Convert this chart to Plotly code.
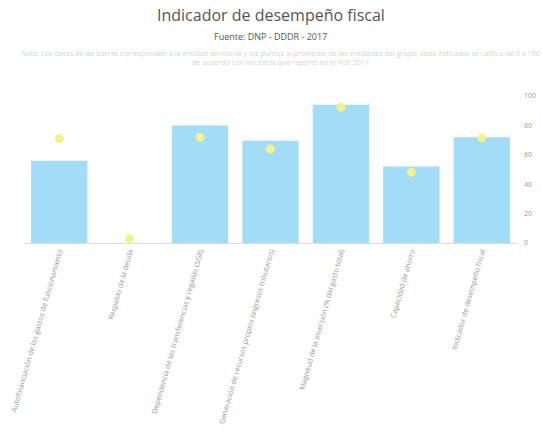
import plotly.graph_objects as go

categories = [
    "Autofinanciación de los gastos de funcionamiento",
    "Respaldo de la deuda",
    "Dependencia de las transferencias y regalías (SGR)",
    "Generación de recursos propios (ingresos tributarios)",
    "Magnitud de la inversión (% del gasto total)",
    "Capacidad de ahorro",
    "Indicador de desempeño fiscal",
]
municipio = [56, 0, 80, 69.5, 94, 52, 72]
referencia = [71, 3, 72, 64, 92.5, 48, 71.5]
y_ticks = [0, 20, 40, 60, 80, 100]

title = "Indicador de desempeño fiscal"
subtitle = "Fuente: DNP - DDDR - 2017"
note = ("Nota: Los datos de las barras corresponden a la entidad territorial y los puntos al promedio de las entidades del grupo; cada indicador se califica de 0 a 100<br>"
        "de acuerdo con los datos que reportó en el FUT 2017")

fig = go.Figure()
fig.add_trace(go.Bar(
    x=categories, y=municipio, name="Municipio",
    marker=dict(color="#a3dcf6", line=dict(width=0)),
))
fig.add_trace(go.Scatter(
    x=categories, y=referencia, name="Referencia", mode="markers",
    marker=dict(color="#f4f28c", size=9, line=dict(width=0)),
))

fig.update_layout(
    width=542, height=432,
    margin=dict(l=24, r=25, t=96, b=189),
    paper_bgcolor="white", plot_bgcolor="white",
    showlegend=False, bargap=0.2,
    font=dict(family="Open Sans", color="#777"),
    xaxis=dict(showgrid=False, tickangle=-74, tickfont=dict(size=7.3, color="#9a9a9a"),
               showline=True, linecolor="#dcdcdc", linewidth=1, ticks="", automargin=False),
    yaxis=dict(side="right", range=[0, 100], tickvals=y_ticks, showgrid=False,
               zeroline=False, tickfont=dict(size=7, color="#999"), ticks="",
               ticklabelstandoff=6, automargin=False),
    annotations=[
        dict(text=title, x=0.5, y=1.551, xref="paper", yref="paper", showarrow=False,
             yanchor="middle", font=dict(family="Open Sans", size=16, color="#555")),
        dict(text=subtitle, x=0.5, y=1.408, xref="paper", yref="paper", showarrow=False,
             yanchor="middle", font=dict(family="Open Sans", size=9, color="#555")),
        dict(text=note, x=0.52, y=1.262, xref="paper", yref="paper", showarrow=False,
             yanchor="middle", font=dict(family="Open Sans", size=7.2, color="#d4d4d4")),
    ],
)

fig.write_html("out.html", config={"displayModeBar": False},
               post_script="document.body.style.margin='0px';")
